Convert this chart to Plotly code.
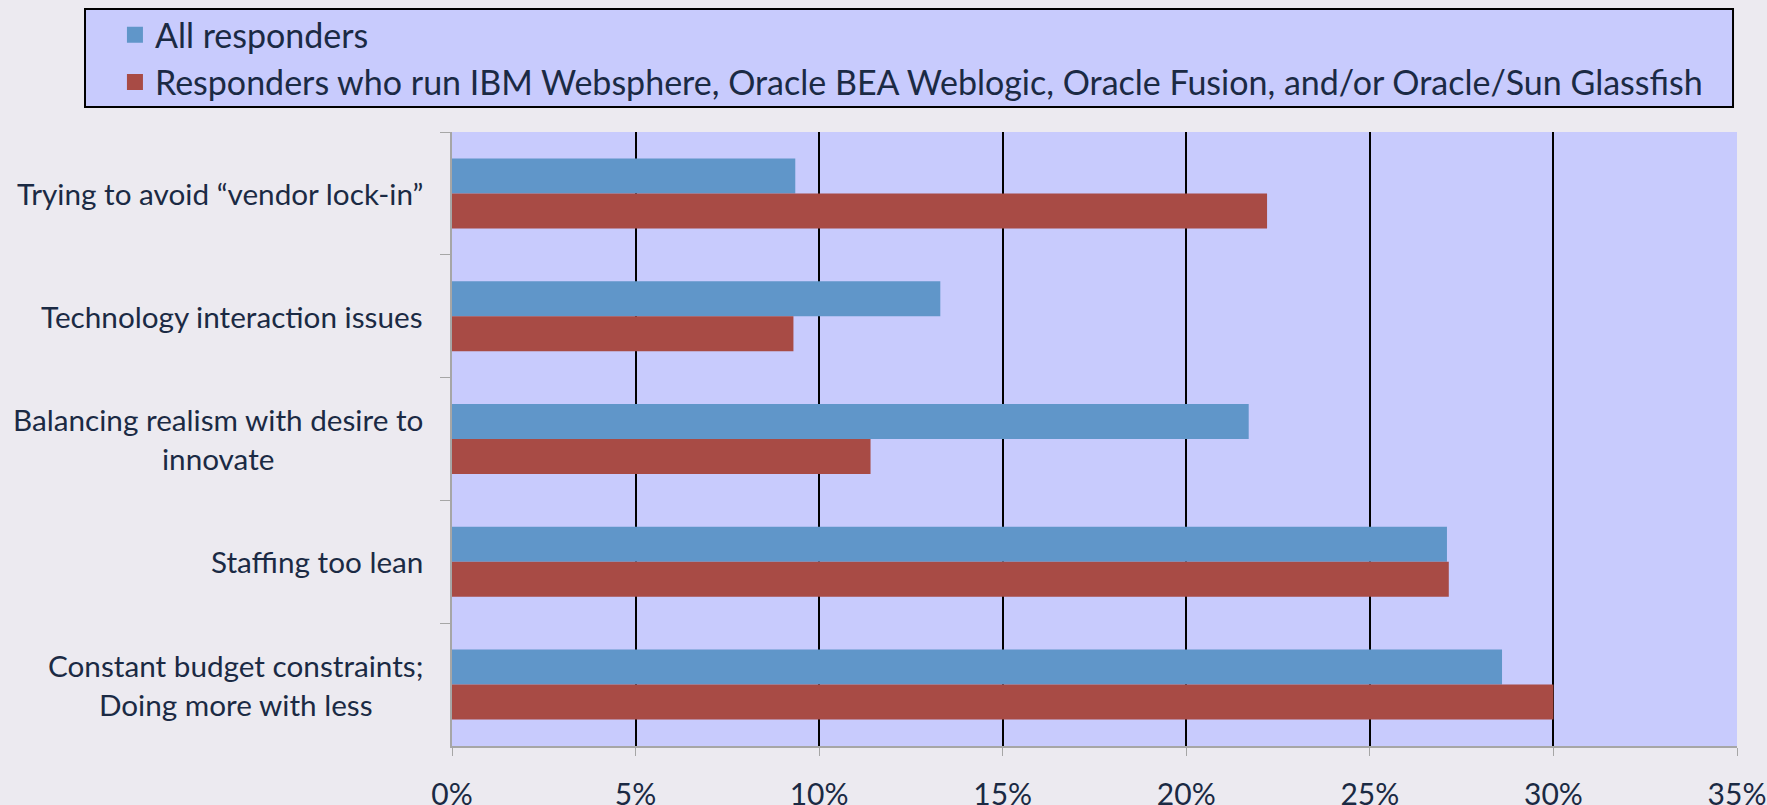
import plotly.graph_objects as go

categories = [
    "Trying to avoid “vendor lock-in”",
    "Technology interaction issues",
    "Balancing realism with desire to<br>innovate",
    "Staffing too lean",
    "Constant budget constraints;<br>Doing more with less",
]
series_names = [
    "All responders",
    "Responders who run IBM Websphere, Oracle BEA Weblogic, Oracle Fusion, and/or Oracle/Sun Glassfish",
]
all_responders = [0.0935, 0.133, 0.217, 0.271, 0.286]
vendor_responders = [0.222, 0.093, 0.114, 0.2715, 0.300]
tick_values = [0, 0.05, 0.10, 0.15, 0.20, 0.25, 0.30, 0.35]
tick_labels = ["0%", "5%", "10%", "15%", "20%", "25%", "30%", "35%"]

BLUE = "#6096C9"
RED = "#A84B45"
TEXT = "#1B2A44"
PAGE_BG = "#ECEAF0"
PLOT_BG = "#C8CBFD"
FONT = "Lato"
colors = [BLUE, RED]
values = [all_responders, vendor_responders]

fig = go.Figure()
for name, vals, col, grp in zip(series_names, values, colors, ["a", "b"]):
    fig.add_trace(go.Bar(y=categories, x=vals, orientation="h", name=name,
                         marker=dict(color=col, line=dict(width=0)),
                         legendgroup=grp, showlegend=False))
# legend entries (square swatches)
for name, col, grp in zip(series_names, colors, ["a", "b"]):
    fig.add_trace(go.Scatter(x=[None], y=[None], mode="markers", name=name,
                             marker=dict(symbol="square", size=16, color=col),
                             legendgroup=grp, showlegend=True))

for c in categories:
    fig.add_annotation(x=0, xref="paper", y=c, yref="y", xshift=-27,
                       xanchor="right", yanchor="middle", align="center",
                       text=c, showarrow=False,
                       font=dict(family=FONT, size=29.7, color=TEXT))

# legend frame
fig.add_shape(type="rect", xref="paper", yref="paper",
              x0=-0.2856, x1=0.9969, y0=1.0407, y1=1.2003,
              line=dict(color="black", width=2), fillcolor=PLOT_BG, layer="below")

fig.update_layout(
    width=1767, height=805,
    margin=dict(l=452, r=30, t=132, b=59, autoexpand=False),
    paper_bgcolor=PAGE_BG, plot_bgcolor=PLOT_BG,
    barmode="group", bargap=0.43, bargroupgap=0,
    font=dict(family=FONT, color=TEXT),
    showlegend=True,
    legend=dict(x=-0.2623, y=1.205, xanchor="left", yanchor="top",
                bgcolor="rgba(0,0,0,0)", borderwidth=0,
                font=dict(family=FONT, size=34, color=TEXT),
                tracegroupgap=0, itemwidth=30, traceorder="normal"),
    xaxis=dict(range=[0, 0.35], tickvals=tick_values, ticktext=tick_labels,
               showgrid=True, gridcolor="black", gridwidth=2, zeroline=False,
               showline=True, linecolor="#A6A6A6", linewidth=2,
               ticks="outside", ticklen=8, tickcolor="#A6A6A6",
               ticklabelstandoff=13,
               tickfont=dict(family=FONT, size=30, color=TEXT)),
    yaxis=dict(categoryorder="array", categoryarray=categories,
               autorange="reversed", showticklabels=False,
               showline=True, linecolor="#A6A6A6", linewidth=2,
               ticks="outside", ticklen=10, tickcolor="#A6A6A6",
               tickson="boundaries", showgrid=False, zeroline=False),
)

fig.write_html(
    "out.html",
    config={"displayModeBar": False},
    post_script="document.body.style.margin='0';document.body.style.background='%s';" % PAGE_BG,
)
